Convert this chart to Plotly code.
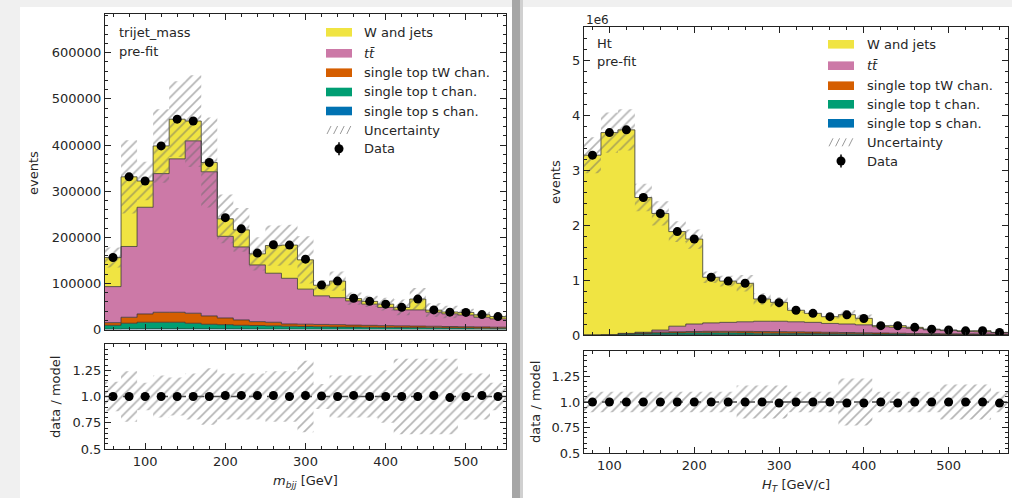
import numpy as np
import plotly.graph_objects as go

# ===================== DATA =====================
# ---- left panel: trijet_mass ----
mbjj_edges = np.linspace(50, 550, 26)
mbjj_s_chan = [600, 1000, 1200, 1300, 1300, 1200, 1100, 1000, 900, 800, 700, 650, 600,
               550, 500, 450, 400, 380, 350, 330, 300, 280, 260, 240, 220]
mbjj_t_chan = [8500, 12500, 14500, 14400, 14400, 12300, 10200, 9400, 8200, 7900, 7300, 6350, 5900,
               5450, 5000, 4750, 4400, 4120, 3850, 3670, 3400, 3120, 2940, 2660, 2380]
mbjj_tw_chan = [5700, 13000, 18000, 21700, 21700, 21800, 18100, 14600, 11600, 8300, 7700, 5000, 5000,
                5000, 5000, 4300, 4200, 3800, 3600, 3400, 3300, 3100, 2800, 2600, 2400]
mbjj_ttbar = [78200, 153500, 231300, 300600, 332600, 373700, 312600, 177000, 158300, 123000, 106300, 99000, 76000,
              62000, 58500, 52500, 46000, 39700, 34700, 35100, 30500, 27500, 25500, 21000, 18000]
mbjj_wjets = [63000, 151000, 57000, 60000, 86000, 43000, 20000, 38000, 37000, 24000, 60000, 72000, 63500,
              23000, 36000, 5000, 6000, 7000, 5500, 23500, 4500, 4000, 5500, 5500, 5000]
mbjj_data = [156000, 331000, 322000, 398000, 456000, 452000, 362000, 242400, 218200, 165600, 183800, 183000, 152500,
             96500, 105000, 67700, 61000, 55000, 48000, 66000, 42400, 37600, 37000, 32300, 28000]
mbjj_rel_unc = [0.14, 0.24, 0.13, 0.20, 0.18, 0.22, 0.27, 0.22, 0.22, 0.22, 0.24, 0.24, 0.34,
                0.12, 0.20, 0.20, 0.20, 0.25, 0.36, 0.36, 0.36, 0.36, 0.22, 0.22, 0.13]

# ---- right panel: Ht ----
ht_edges = np.linspace(70, 570, 26)
ht_s_chan = [1000, 2000, 3000, 4000, 5000, 5000, 5000, 5000, 5000, 5000, 4000, 4000, 4000,
             3000, 3000, 3000, 3000, 2000, 2000, 2000, 2000, 1000, 1000, 1000, 1000]
ht_t_chan = [1000, 3000, 17000, 24000, 30000, 33000, 35000, 35000, 34000, 32000, 30000, 28000, 26000,
             24000, 22000, 20000, 18000, 16000, 14000, 12000, 11000, 10000, 9000, 8000, 7000]
ht_tw_chan = [1000, 1000, 5000, 12000, 17000, 21000, 24000, 27000, 28000, 29000, 30000, 29000, 28000,
              26000, 24000, 22000, 20000, 18000, 16000, 14000, 12000, 11000, 10000, 9000, 8000]
ht_ttbar = [500, 1000, 5000, 10000, 38000, 101000, 136000, 153000, 163000, 174000, 186000, 189000, 182000,
            177000, 161000, 155000, 144000, 114000, 108000, 92000, 70000, 58000, 45000, 42000, 27000]
ht_wjets = [3266500, 3673000, 3700000, 2450000, 2120000, 1720000, 1545000, 830000, 750000, 700000, 405000,
            344000, 210000, 164000, 123000, 170000, 118000, 20000, 30000, 19000, 11000, 11000, 11000, 18000, 5000]
ht_data = [3270000, 3680000, 3730000, 2500000, 2210000, 1880000, 1745000, 1050000, 980000, 940000, 655000,
           588000, 450000, 394000, 333000, 366300, 300000, 170000, 168300, 139000, 106000, 91000, 76000, 78000, 47500]
ht_rel_unc = [0.10, 0.10, 0.10, 0.10, 0.10, 0.10, 0.10, 0.10, 0.10, 0.16, 0.16, 0.16, 0.10,
              0.10, 0.10, 0.23, 0.23, 0.10, 0.10, 0.10, 0.10, 0.17, 0.17, 0.17, 0.10]

legend_labels = ["W and jets", "<i>t</i><i>t\u0304</i>", "single top tW chan.", "single top t chan.",
                 "single top s chan.", "Uncertainty", "Data"]

# ===================== STYLE =====================
FONT = "DejaVu Sans"
TXT = "#262626"
AX = "#222222"
EDGE = "rgba(45,45,45,0.75)"
COL_S, COL_T, COL_TW, COL_TT, COL_W = "#0072B2", "#009E73", "#D55E00", "#CC79A7", "#F0E442"
HATCH = "#6a6a6a"
W, H = 1012, 498


def px(x):
    return x / W


def py(y):
    return 1 - y / H


fig = go.Figure()


def add_stack(edges, comps, colors, xa, ya):
    cum = np.zeros(len(edges) - 1)
    for i, (vals, col) in enumerate(zip(comps, colors)):
        cum = cum + np.asarray(vals, float)
        fig.add_trace(go.Scatter(
            x=edges, y=np.append(cum, cum[-1]), mode="lines",
            line=dict(shape="hv", color=EDGE, width=1),
            fill="tozeroy" if i == 0 else "tonexty", fillcolor=col,
            xaxis=xa, yaxis=ya, hoverinfo="skip", showlegend=False))
    return cum


def add_band(edges, lo, hi, xa, ya):
    fig.add_trace(go.Scatter(
        x=edges, y=np.append(lo, lo[-1]), mode="lines",
        line=dict(shape="hv", width=0, color="rgba(0,0,0,0)"),
        xaxis=xa, yaxis=ya, hoverinfo="skip", showlegend=False))
    fig.add_trace(go.Scatter(
        x=edges, y=np.append(hi, hi[-1]), mode="lines",
        line=dict(shape="hv", width=0, color="rgba(0,0,0,0)"),
        fill="tonexty", fillcolor="rgba(0,0,0,0)",
        fillpattern=dict(shape="/", fgcolor=HATCH, bgcolor="rgba(0,0,0,0)", size=7, solidity=0.24),
        xaxis=xa, yaxis=ya, hoverinfo="skip", showlegend=False))


def add_points(x, y, err, xa, ya):
    fig.add_trace(go.Scatter(
        x=x, y=y, mode="markers", marker=dict(color="black", size=9),
        error_y=dict(type="data", array=err, color="black", thickness=1, width=0),
        xaxis=xa, yaxis=ya, hoverinfo="skip", showlegend=False))


def panel(edges, comps, data, rel_unc, xa_main, ya_main, xa_rat, ya_rat):
    centers = 0.5 * (edges[:-1] + edges[1:])
    total = add_stack(edges, comps, [COL_S, COL_T, COL_TW, COL_TT, COL_W], xa_main, ya_main)
    unc = np.asarray(rel_unc) * total
    add_band(edges, total - unc, total + unc, xa_main, ya_main)
    data = np.asarray(data, float)
    add_points(centers, data, np.sqrt(data), xa_main, ya_main)
    # ratio
    add_band(edges, 1 - np.asarray(rel_unc), 1 + np.asarray(rel_unc), xa_rat, ya_rat)
    add_points(centers, data / total, np.sqrt(data) / total, xa_rat, ya_rat)
    return data


d_l = panel(mbjj_edges, [mbjj_s_chan, mbjj_t_chan, mbjj_tw_chan, mbjj_ttbar, mbjj_wjets],
            mbjj_data, mbjj_rel_unc, "x", "y", "x2", "y2")
d_r = panel(ht_edges, [ht_s_chan, ht_t_chan, ht_tw_chan, ht_ttbar, ht_wjets],
            ht_data, ht_rel_unc, "x3", "y3", "x4", "y4")

tickfont = dict(family=FONT, size=13, color=TXT)


def xax(rng, dom, anchor, labels):
    return dict(domain=dom, anchor=anchor, range=rng, showline=True, linecolor=AX, linewidth=1,
                mirror="allticks", ticks="inside", ticklen=6, tickwidth=1, tickcolor=AX,
                tick0=0, dtick=100, showticklabels=labels, showgrid=False, zeroline=False,
                automargin=False,
                minor=dict(ticks="inside", ticklen=3, tickwidth=1, tickcolor=AX, dtick=20, tick0=0, showgrid=False),
                tickfont=tickfont)


def yax(rng, dom, anchor, tickvals, ticktext, minor_dtick):
    return dict(domain=dom, anchor=anchor, range=rng, showline=True, linecolor=AX, linewidth=1,
                mirror="allticks", ticks="inside", ticklen=6, tickwidth=1, tickcolor=AX,
                tickmode="array", tickvals=tickvals, ticktext=ticktext,
                showgrid=False, zeroline=False, automargin=False,
                minor=dict(ticks="inside", ticklen=3, tickwidth=1, tickcolor=AX, dtick=minor_dtick, tick0=0, showgrid=False),
                tickfont=tickfont)


xl_dom = [px(105), px(506)]
xr_dom = [px(584), px(1008)]
ymax_l = 1.5 * d_l.max()
ymax_r = 1.5 * d_r.max()
lvals = [0, 100000, 200000, 300000, 400000, 500000, 600000]
rvals = [0, 1e6, 2e6, 3e6, 4e6, 5e6]
ratio_vals = [0.5, 0.75, 1.0, 1.25]
ratio_text = ["0.5", "0.75", "1.0", "1.25"]

fig.update_layout(
    width=W, height=H, autosize=False,
    margin=dict(l=0, r=0, t=0, b=0, pad=0, autoexpand=False),
    paper_bgcolor="#f0f0f0", plot_bgcolor="white", showlegend=False,
    font=dict(family=FONT, size=13, color=TXT),
    xaxis=xax([50, 550], xl_dom, "y", False),
    yaxis=yax([0, ymax_l], [py(329.5), py(14)], "x", lvals, [str(v) for v in lvals], 20000),
    xaxis2=xax([50, 550], xl_dom, "y2", True),
    yaxis2=yax([0.5, 1.5], [py(449), py(344)], "x2", ratio_vals, ratio_text, 0.05),
    xaxis3=xax([70, 570], xr_dom, "y3", False),
    yaxis3=yax([0, ymax_r], [py(335), py(27.3)], "x3", rvals, [str(int(v / 1e6)) for v in rvals], 200000),
    xaxis4=xax([70, 570], xr_dom, "y4", True),
    yaxis4=yax([0.5, 1.5], [py(453.3), py(350.7)], "x4", ratio_vals, ratio_text, 0.05),
)

shapes = [
    dict(type="rect", xref="paper", yref="paper", x0=px(20), x1=px(512), y0=py(498), y1=py(7),
         fillcolor="white", line=dict(width=0), layer="below"),
    dict(type="rect", xref="paper", yref="paper", x0=px(512), x1=px(520), y0=0, y1=1,
         fillcolor="#a6a6a6", line=dict(width=0), layer="below"),
    dict(type="rect", xref="paper", yref="paper", x0=px(520), x1=px(523), y0=0, y1=1,
         fillcolor="#d0d0d0", line=dict(width=0), layer="below"),
    dict(type="rect", xref="paper", yref="paper", x0=px(523), x1=1, y0=py(498), y1=py(7),
         fillcolor="white", line=dict(width=0), layer="below"),
    dict(type="line", xref="x2 domain", yref="y2", x0=0, x1=1, y0=1, y1=1,
         line=dict(color="#4a4a4a", width=1.4, dash="dash"), layer="below"),
    dict(type="line", xref="x4 domain", yref="y4", x0=0, x1=1, y0=1, y1=1,
         line=dict(color="#4a4a4a", width=1.4, dash="dash"), layer="below"),
]
annotations = []


def ann(x, y, text, xanchor="left", angle=0, size=13, yanchor="middle"):
    annotations.append(dict(xref="paper", yref="paper", x=px(x), y=py(y), text=text, showarrow=False,
                            xanchor=xanchor, yanchor=yanchor, textangle=angle,
                            font=dict(family=FONT, size=size, color=TXT)))


def legend(xp0, xp1, xt, rows):
    cols = [COL_W, COL_TT, COL_TW, COL_T, COL_S]
    for i, lab in enumerate(legend_labels):
        yc = rows[i]
        if i < 5:
            shapes.append(dict(type="rect", xref="paper", yref="paper", x0=px(xp0), x1=px(xp1),
                               y0=py(yc + 4.3), y1=py(yc - 4.3), fillcolor=cols[i], line=dict(width=0)))
        elif i == 5:
            for k in range(4):
                xs = xp0 + 1 + k * 6.6
                shapes.append(dict(type="line", xref="paper", yref="paper", x0=px(xs), x1=px(xs + 4),
                                   y0=py(yc + 4), y1=py(yc - 4), line=dict(color="#9a9a9a", width=1)))
        else:
            xc = 0.5 * (xp0 + xp1)
            shapes.append(dict(type="line", xref="paper", yref="paper", x0=px(xc), x1=px(xc),
                               y0=py(yc + 6.5), y1=py(yc - 6.5), line=dict(color="black", width=1.5)))
            shapes.append(dict(type="circle", xref="paper", yref="paper", x0=px(xc - 4.5), x1=px(xc + 4.5),
                               y0=py(yc + 4.5), y1=py(yc - 4.5), fillcolor="black", line=dict(width=0)))
        ann(xt, yc, lab)


legend(326, 352, 362, [32.3, 53.3, 72.7, 92, 111, 130, 148.7])
legend(828, 854, 865, [44.3, 65.7, 85.7, 104.3, 123.3, 142.3, 161])

ann(117, 32, "trijet_mass")
ann(117, 51.7, "pre-fit")
ann(595, 44, "Ht")
ann(595, 61.7, "pre-fit")
ann(584, 20, "1e6", size=12)
ann(33, 173, "events", xanchor="center", angle=-90)
ann(55, 397, "data / model", xanchor="center", angle=-90)
ann(555, 182, "events", xanchor="center", angle=-90)
ann(535, 402, "data / model", xanchor="center", angle=-90)
ann(305, 481.5, "<i>m</i><sub><i>bjj</i></sub> [GeV]", xanchor="center")
ann(796, 485, "<i>H</i><sub><i>T</i></sub> [GeV/c]", xanchor="center")

fig.update_layout(shapes=shapes, annotations=annotations)

fig.write_html("out.html", config={"displayModeBar": False, "responsive": False},
               post_script="document.body.style.margin='0';")
